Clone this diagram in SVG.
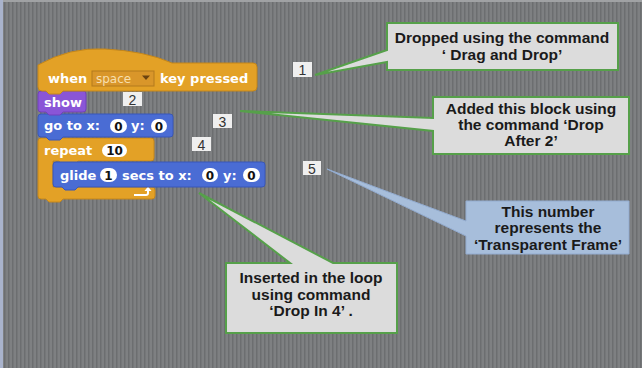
<svg xmlns="http://www.w3.org/2000/svg" width="642" height="368" viewBox="0 0 642 368">
<defs>
<pattern id="stripes" width="4" height="4" patternUnits="userSpaceOnUse">
<rect width="4" height="4" fill="#7e8082"/>
<rect width="1.5" height="4" fill="#6c6e70"/>
</pattern>
<style>
.co{fill:#dcdcdc;stroke:#56a04a;stroke-width:2;stroke-linejoin:miter}
.cob{fill:#a7bedb;stroke:#93acd0;stroke-width:1}
.ct{font-family:"Liberation Sans",Arial,sans-serif;font-weight:bold;font-size:15.5px;fill:#1a1a1a;text-anchor:middle}
.num rect{fill:#efefef}
.num text{font-family:"Liberation Sans",Arial,sans-serif;font-size:14px;fill:#333;text-anchor:middle}
.bt{font-family:"DejaVu Sans",Verdana,sans-serif;font-weight:bold;font-size:13px;fill:#fff}
.it{font-family:"DejaVu Sans",Verdana,sans-serif;font-weight:bold;font-size:12px;fill:#111;text-anchor:middle}
.pill{fill:#fff}
.ev{fill:#e3a126;stroke:#c4861a;stroke-width:1}
.ctl{fill:#e3a126;stroke:#c4861a;stroke-width:1}
.mo{fill:#4a6cd4;stroke:#3957b8;stroke-width:1}
.lo{fill:#8a55d7;stroke:#7040bb;stroke-width:1}
</style>
</defs>
<rect width="642" height="368" fill="url(#stripes)"/>
<rect x="0" y="0" width="642" height="2" fill="#a0a2a4"/>
<rect x="0" y="0" width="3" height="368" fill="#a9b3cc"/>

<g id="scratch-script">
<g id="block-repeat">
<path class="ctl" d="M41,138 H151 Q154,138 154,141 V158 Q154,161 151,161 H78 L75,164 H62 L59,161 H53 V187 H152 Q155,187 155,190 V196 Q155,199 152,199 H63 L60,202 H49 L46,199 H41 Q38,199 38,196 V141 Q38,138 41,138 Z"/>
<text class="bt" x="44" y="155">repeat</text>
<rect class="pill" x="102" y="144" width="25" height="13" rx="6.5"/>
<text class="it" x="114.5" y="155">10</text>
<path d="M134,195 H146 Q148,195 148,193 V190" fill="none" stroke="#fff" stroke-width="2"/>
<path d="M144.5,191 L148,186.5 L151.5,191 Z" fill="#fff"/>
</g>
<g id="block-glide">
<path class="mo" d="M56,162 H262 Q265,162 265,165 V184 Q265,187 262,187 H78 L75,190 H65 L62,187 H56 Q53,187 53,184 V165 Q53,162 56,162 Z"/>
<text class="bt" x="60" y="180">glide</text>
<rect class="pill" x="100" y="168" width="17" height="14" rx="7"/>
<text class="it" x="108.5" y="179.5">1</text>
<text class="bt" x="122" y="180">secs to x:</text>
<rect class="pill" x="202" y="168" width="16" height="14" rx="7"/>
<text class="it" x="210" y="179.5">0</text>
<text class="bt" x="223" y="180">y:</text>
<rect class="pill" x="243" y="168" width="17" height="14" rx="7"/>
<text class="it" x="251.5" y="179.5">0</text>
</g>
<g id="block-goto">
<path class="mo" d="M41,114 H170 Q173,114 173,117 V134 Q173,137 170,137 H63 L60,140 H49 L46,137 H41 Q38,137 38,134 V117 Q38,114 41,114 Z"/>
<text class="bt" x="44" y="130">go to x:</text>
<rect class="pill" x="110" y="119" width="17" height="14" rx="7"/>
<text class="it" x="118.5" y="130.5">0</text>
<text class="bt" x="131" y="130">y:</text>
<rect class="pill" x="151" y="119" width="16" height="14" rx="7"/>
<text class="it" x="159" y="130.5">0</text>
</g>
<g id="block-show">
<path class="lo" d="M41,91 H83 Q86,91 86,94 V109 Q86,112 83,112 H63 L60,115 H49 L46,112 H41 Q38,112 38,109 V94 Q38,91 41,91 Z"/>
<text class="bt" x="44" y="107">show</text>
</g>
<g id="block-when">
<path class="ev" d="M38,65 Q70,47 105,49 Q145,51 172,63 H253 Q257,63 257,67 V87 Q257,91 253,91 H63 L60,94 H49 L46,91 H42 Q38,91 38,87 Z"/>
<text class="bt" x="48" y="83">when</text>
<rect x="92" y="71" width="62" height="15" fill="#d9962a" stroke="#b37a1c" stroke-width="1"/>
<text x="96" y="82.5" font-family="DejaVu Sans,Verdana,sans-serif" font-size="12px" fill="#f7dfae">space</text>
<path d="M142,75.5 H150 L146,80 Z" fill="#6b4310"/>
<text class="bt" x="160" y="83">key pressed</text>
</g>
</g>

<g id="labels">
<g id="n1" class="num"><rect x="293" y="62" width="19" height="15"/><text x="302.5" y="74.5">1</text></g>
<g id="n2" class="num"><rect x="123" y="92" width="19" height="14"/><text x="132.5" y="104.5">2</text></g>
<g id="n3" class="num"><rect x="213" y="114" width="19" height="14"/><text x="222.5" y="126.5">3</text></g>
<g id="n4" class="num"><rect x="192" y="137" width="19" height="14"/><text x="201.5" y="149.5">4</text></g>
<g id="n5" class="num"><rect x="303" y="161" width="18" height="14"/><text x="312" y="173.5">5</text></g>
</g>

<g id="callouts">
<g id="callout1">
<path class="co" d="M387,23 H618 V70 H387 V62 L315,75 L387,50 Z"/>
<text class="ct" x="502" y="43">Dropped using the command</text>
<text class="ct" x="502" y="60">‘ Drag and Drop’</text>
</g>
<g id="callout2">
<path class="co" d="M433,97 H629 V154 H433 V131 L240,111 L433,118 Z"/>
<text class="ct" x="531" y="114">Added this block using</text>
<text class="ct" x="531" y="130">the command ‘Drop</text>
<text class="ct" x="531" y="146">After 2’</text>
</g>
<g id="callout5">
<path class="cob" d="M466,201 H629 V254 H466 V236 L327,169 L466,221 Z"/>
<text class="ct" x="548" y="217">This number</text>
<text class="ct" x="548" y="233">represents the</text>
<text class="ct" x="548" y="250">‘Transparent Frame’</text>
</g>
<g id="callout4">
<path class="co" d="M226,263 H290 L199,193 L333,263 H397 V333 H226 Z"/>
<text class="ct" x="311" y="283">Inserted in the loop</text>
<text class="ct" x="311" y="300">using command</text>
<text class="ct" x="311" y="316">‘Drop In 4’ .</text>
</g>
</g>
</svg>
